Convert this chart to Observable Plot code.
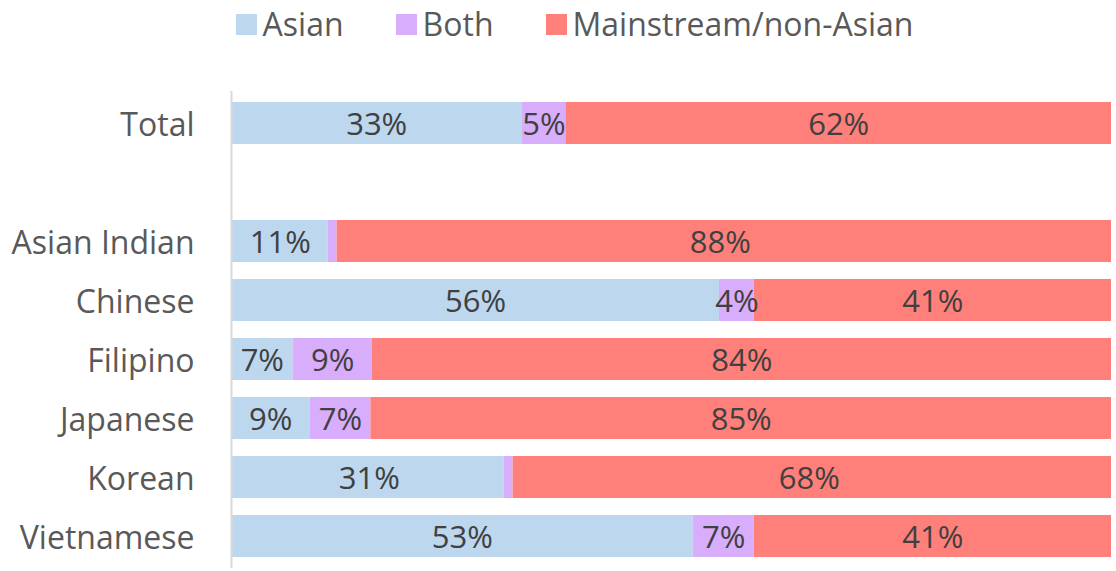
<!DOCTYPE html>
<html>
<head>
<meta charset="utf-8">
<script src="https://cdn.jsdelivr.net/npm/d3@7"></script>
<script src="https://cdn.jsdelivr.net/npm/@observablehq/plot@0.6"></script>
<style>
  html, body { margin: 0; padding: 0; background: #fff; }
  body { width: 1116px; height: 571px; overflow: hidden; font-family: "Open Sans", sans-serif; }
  #legend { height: 62px; display: flex; justify-content: center; align-items: flex-start; padding-left: 33px; box-sizing: border-box; }
  .item { display: flex; align-items: center; margin: 0 26px; font-size: 32px; color: #595959; line-height: 48px; }
  .sw { width: 21px; height: 21px; margin-right: 6px; }
  #chart svg { display: block; }
</style>
</head>
<body>
<div id="legend"></div>
<div id="chart"></div>
<script>
const categories = ["Total", "Asian Indian", "Chinese", "Filipino", "Japanese", "Korean", "Vietnamese"];
const seriesNames = ["Asian", "Both", "Mainstream/non-Asian"];
const asian      = [33, 11, 56, 7, 9, 31, 53];
const both       = [5, 1, 4, 9, 7, 1, 7];
const mainstream = [62, 88, 41, 84, 85, 68, 41];
const colors = ["#BDD7EE", "#D8ADFC", "#FF7F7A"];
const spacer = " ";
const yDomain = ["Total", spacer, "Asian Indian", "Chinese", "Filipino", "Japanese", "Korean", "Vietnamese"];

const seriesValues = [asian, both, mainstream];
const rows = [];
categories.forEach((c, i) => {
  seriesNames.forEach((s, j) => {
    rows.push({category: c, series: s, value: seriesValues[j][i]});
  });
});

const legend = document.getElementById("legend");
seriesNames.forEach((s, j) => {
  const it = document.createElement("div");
  it.className = "item";
  it.innerHTML = `<span class="sw" style="background:${colors[j]}"></span><span>${s}</span>`;
  legend.appendChild(it);
});

const stackOpts = {y: "category", x: "value", z: "series", order: seriesNames, offset: "normalize"};

const chart = Plot.plot({
  width: 1116,
  height: 509,
  marginLeft: 231,
  marginRight: 5,
  marginTop: 37,
  marginBottom: 11,
  style: {fontFamily: "Open Sans, sans-serif", background: "#fff"},
  x: {axis: null, domain: [0, 1]},
  y: {domain: yDomain, paddingInner: 0.28, paddingOuter: 0, label: null},
  color: {domain: seriesNames, range: colors},
  marks: [
    Plot.barX(rows, Plot.stackX({...stackOpts, fill: "series"})),
    Plot.textX(rows, Plot.stackX({...stackOpts, filter: d => d.value >= 4, text: d => d.value + "%", fill: "#404040", fontSize: 31, dy: 2})),
    Plot.axisY({domain: yDomain, tickSize: 0, tickPadding: 37, fontSize: 32, fill: "#595959", label: null, dy: 2}),
    Plot.ruleX([0], {stroke: "#D9D9D9", strokeWidth: 2, insetTop: -8, insetBottom: -8})
  ]
});
document.getElementById("chart").appendChild(chart);
</script>
</body>
</html>
